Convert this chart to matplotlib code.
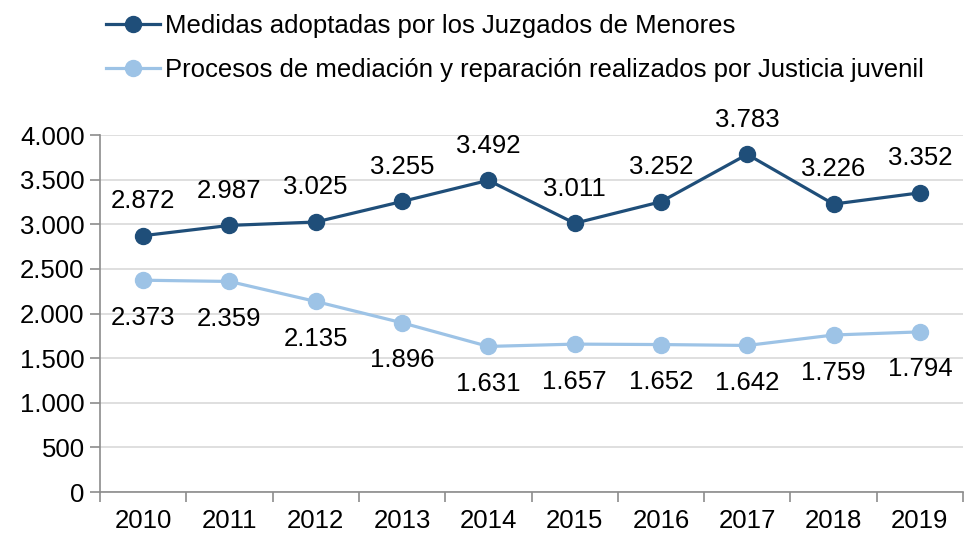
import matplotlib
matplotlib.use("Agg")
import matplotlib.pyplot as plt
from matplotlib.ticker import FuncFormatter, FixedLocator, NullFormatter

plt.rcParams["font.family"] = ["Liberation Sans", "DejaVu Sans"]

years = ["2010", "2011", "2012", "2013", "2014", "2015", "2016", "2017", "2018", "2019"]
medidas = [2872, 2987, 3025, 3255, 3492, 3011, 3252, 3783, 3226, 3352]
procesos = [2373, 2359, 2135, 1896, 1631, 1657, 1652, 1642, 1759, 1794]
labels = [
    "Medidas adoptadas por los Juzgados de Menores",
    "Procesos de mediación y reparación realizados por Justicia juvenil",
]

dark = "#1f4e79"
light = "#9dc3e6"
fs = 18.5


def fmt(v):
    return f"{int(v):,}".replace(",", ".")


fig = plt.figure(figsize=(9.73, 5.34), dpi=100)
ax = fig.add_axes([100 / 973, 42 / 534, 863 / 973, 357 / 534])

x = list(range(len(years)))
ax.plot(x, medidas, color=dark, lw=2.3, marker="o", ms=11.5, label=labels[0], zorder=3)
ax.plot(x, procesos, color=light, lw=2.3, marker="o", ms=11.5, label=labels[1], zorder=3)

for i, v in enumerate(medidas):
    ax.annotate(fmt(v), (i, v), xytext=(0, 25), textcoords="offset points",
                ha="center", va="center", fontsize=fs)
for i, v in enumerate(procesos):
    ax.annotate(fmt(v), (i, v), xytext=(0, -27), textcoords="offset points",
                ha="center", va="center", fontsize=fs)

ax.set_xlim(-0.5, len(years) - 0.5)
ax.set_ylim(0, 4000)
ax.set_yticks(range(0, 4001, 500))
ax.yaxis.set_major_formatter(FuncFormatter(lambda v, p: fmt(v)))
ax.set_xticks(x)
ax.set_xticklabels(years)
ax.xaxis.set_minor_locator(FixedLocator([i - 0.5 for i in range(len(years) + 1)]))
ax.xaxis.set_minor_formatter(NullFormatter())
ax.tick_params(axis="x", which="major", length=0, labelsize=fs, pad=12)
ax.tick_params(axis="x", which="minor", length=7, color="#8c8c8c", width=1.2)
ax.tick_params(axis="y", length=7, color="#8c8c8c", width=1.2, labelsize=fs, pad=4)
ax.grid(axis="y", color="#d9d9d9", lw=1.2)
ax.set_axisbelow(True)
for s in ["top", "right"]:
    ax.spines[s].set_visible(False)
for s in ["left", "bottom"]:
    ax.spines[s].set_color("#8c8c8c")
    ax.spines[s].set_linewidth(1.2)

fig.legend(loc="upper left", bbox_to_anchor=(102 / 973, 1 - 10 / 534), frameon=False,
           fontsize=fs, handlelength=2.1, handletextpad=0.2, labelspacing=0.8,
           borderpad=0.15, borderaxespad=0)

fig.savefig("out.png", dpi=100)
